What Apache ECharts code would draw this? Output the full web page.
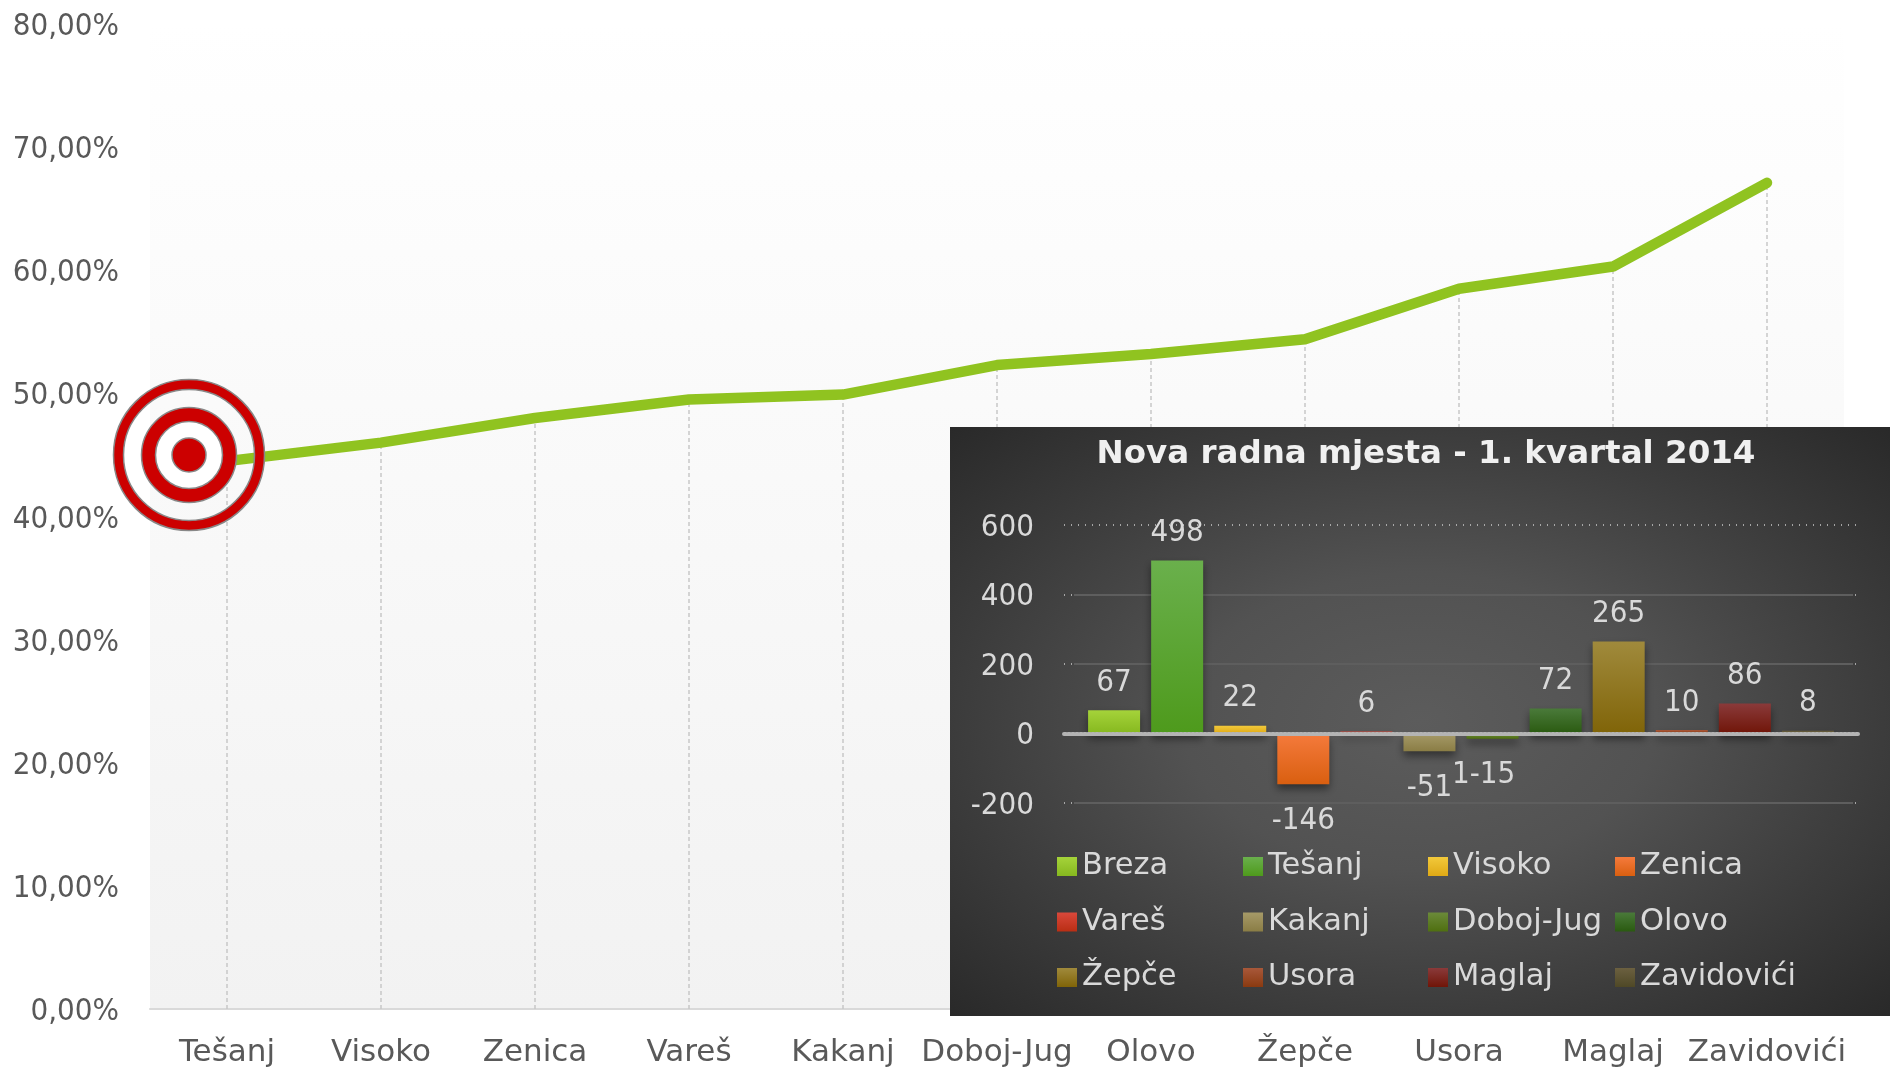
<!DOCTYPE html>
<html><head><meta charset="utf-8">
<style>html,body{margin:0;padding:0;background:#fff}#c{width:1896px;height:1071px}</style>
<script src="https://cdn.jsdelivr.net/npm/echarts@6/dist/echarts.min.js"></script>
</head><body><div id="c"></div>
<script>
const mainCategories = ['Tešanj','Visoko','Zenica','Vareš','Kakanj','Doboj-Jug','Olovo','Žepče','Usora','Maglaj','Zavidovići'];
const mainValues = [44.5,46.0,48.0,49.5,49.9,52.3,53.2,54.4,58.5,60.3,67.1];
const insetNames = ['Breza','Tešanj','Visoko','Zenica','Vareš','Kakanj','Doboj-Jug','Olovo','Žepče','Usora','Maglaj','Zavidovići'];
const insetValues = [67,498,22,-146,6,-51,-15,72,265,10,86,8];
const insetLabels = ['67','498','22','-146','6','-51','1-15','72','265','10','86','8'];
const insetTop = ['#a5d33a','#6ab04c','#f2c93b','#f57a3c','#d9483b','#a69a68','#6b8a3a','#4a7a3a','#a08a3c','#a8583a','#8a3a3a','#6b6040'];
const insetBottom = ['#86b81f','#4e9a1c','#dfa915','#d95f10','#b92e14','#8a7d45','#4f6f10','#2a5a10','#806408','#8a3a10','#701508','#4f4826'];
const chartTitle = 'Nova radna mjesta - 1. kvartal 2014';
const FONT = '"DejaVu Sans Condensed","DejaVu Sans",sans-serif';
const WIDE = '"DejaVu Sans",sans-serif';
const chart = echarts.init(document.getElementById('c'), null, {renderer:'canvas'});
const grad = (a,b)=>new echarts.graphic.LinearGradient(0,0,0,1,[{offset:0,color:a},{offset:1,color:b}]);
const INSET_Z = 20;
const series = [{
  type:'line', xAxisIndex:0, yAxisIndex:0, data:mainValues, showSymbol:false, z:3,
  lineStyle:{color:'#90c320',width:10.5,cap:'round',join:'round'},
  markLine:{silent:true,symbol:'none',label:{show:false},z:2,
    lineStyle:{color:'#c8c8c8',type:[4,3],width:1.5},
    data:mainValues.map((v,i)=>[{xAxis:i,yAxis:0},{xAxis:i,yAxis:v}])}
}];
insetNames.forEach((n,i)=>{
  series.push({
    type:'bar', name:n, xAxisIndex:1, yAxisIndex:1, data:[insetValues[i]], z:INSET_Z+2,
    barWidth:52, barGap:'21.3%',
    itemStyle:{color:grad(insetTop[i],insetBottom[i]),shadowColor:'rgba(0,0,0,0.45)',shadowBlur:8,shadowOffsetY:5},
    label:{show:true,position:insetValues[i]<0?'bottom':'top',distance:insetValues[i]<0?21:12,formatter:insetLabels[i],
      color:'#d9d9d9',fontFamily:FONT,fontSize:31,
      offset:insetLabels[i]==='1-15'?[-9,0]:[0,0]}
  });
});
const cols=[1052,1238,1423,1610];
const legends=cols.map((x,c)=>({
  orient:'vertical',left:x,top:846,itemWidth:20,itemHeight:19,itemGap:24.5,
  icon:'rect',selectedMode:false,
  data:[0,1,2].map(r=>insetNames[r*4+c]),
  textStyle:{color:'#d9d9d9',fontFamily:WIDE,fontSize:30.5},
  z:INSET_Z+3
}));
chart.setOption({
  animation:false,
  backgroundColor:'#fff',
  title:{text:chartTitle,left:1421,top:433,textAlign:'center',z:INSET_Z+3,
    textStyle:{color:'#f0f0f0',fontFamily:WIDE,fontWeight:'bold',fontSize:32.5}},
  legend:legends,
  grid:[
    {left:150,right:52,top:24,bottom:62,show:true,borderWidth:0,backgroundColor:grad('#ffffff','#f2f2f2')},
    {left:1064,right:38,top:525,height:278},
    {left:1074,right:43,top:525,height:278}
  ],
  xAxis:[
    {type:'category',gridIndex:0,data:mainCategories,boundaryGap:true,
      axisLine:{lineStyle:{color:'#d9d9d9',width:2}},axisTick:{show:false},
      axisLabel:{color:'#595959',fontFamily:WIDE,fontSize:31,margin:28,interval:0}},
    {type:'category',gridIndex:1,data:[''],z:INSET_Z+4,
      axisLine:{onZero:true,lineStyle:{color:'#b4b4b4',width:4,type:[2,2]}},axisTick:{show:false},axisLabel:{show:false}},
    {type:'category',gridIndex:2,data:[''],axisLine:{show:false},axisTick:{show:false},axisLabel:{show:false}}
  ],
  yAxis:[
    {type:'value',gridIndex:0,min:0,max:80,interval:10,
      axisLine:{show:false},axisTick:{show:false},splitLine:{show:false},
      axisLabel:{margin:31,formatter:v=>'{t|'+v.toFixed(2).replace('.',',')+'%}',
        rich:{t:{color:'#595959',fontFamily:FONT,fontSize:31,padding:[6,0,0,0]}}}},
    {type:'value',gridIndex:1,min:-200,max:600,interval:200,z:INSET_Z+1,
      axisLine:{show:false},axisTick:{show:false},
      splitLine:{show:true,lineStyle:{color:'#c8c8c8',type:[1,6],width:1.5}},
      axisLabel:{margin:30,formatter:v=>'{t|'+v+'}',
        rich:{t:{color:'#d9d9d9',fontFamily:FONT,fontSize:31,padding:[5,0,0,0]}}}},
    {type:'value',gridIndex:2,min:-200,max:600,interval:200,z:INSET_Z+1,
      axisLine:{show:false},axisTick:{show:false},axisLabel:{show:false},
      splitLine:{show:true,lineStyle:{color:['#5e5e5e','#5e5e5e','#5e5e5e','#5e5e5e','rgba(0,0,0,0)'],width:2}}}
  ],
  series:series,
  graphic:[
    {type:'rect',z:INSET_Z,silent:true,x:950,y:427,scaleY:589/940,shape:{x:0,y:0,width:940,height:940},
      style:{fill:new echarts.graphic.RadialGradient(0.5,0.5,0.72,[{offset:0,color:'#5c5c5c'},{offset:0.35,color:'#525252'},{offset:0.7,color:'#3b3b3b'},{offset:1,color:'#282828'}])}},
    {type:'circle',z:15,silent:true,shape:{cx:189,cy:455,r:70.5},style:{fill:'none',stroke:'#cc0000',lineWidth:10}},
    {type:'circle',z:15,silent:true,shape:{cx:189,cy:455,r:75.5},style:{fill:'none',stroke:'#888',lineWidth:1.5}},
    {type:'circle',z:15,silent:true,shape:{cx:189,cy:455,r:65.5},style:{fill:'none',stroke:'#888',lineWidth:1.5}},
    {type:'circle',z:15,silent:true,shape:{cx:189,cy:455,r:47.5},style:{fill:'#cc0000',stroke:'#888',lineWidth:1.5}},
    {type:'circle',z:15,silent:true,shape:{cx:189,cy:455,r:33.5},style:{fill:'#ffffff',stroke:'#888',lineWidth:1.5}},
    {type:'circle',z:15,silent:true,shape:{cx:189,cy:455,r:17},style:{fill:'#cc0000',stroke:'#888',lineWidth:1.5}}
  ]
});
</script></body></html>
